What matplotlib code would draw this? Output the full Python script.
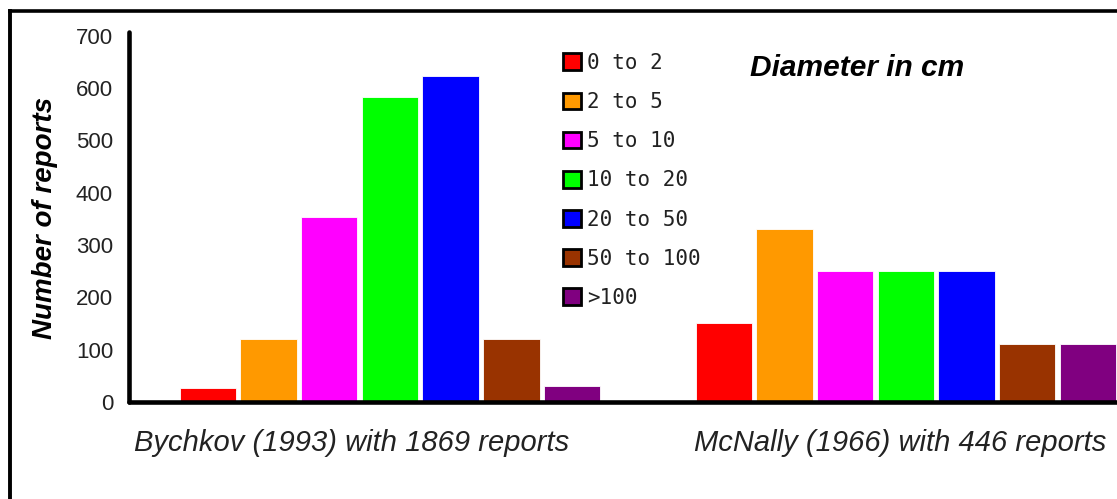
import matplotlib.pyplot as plt
from matplotlib.patches import Patch
from matplotlib.lines import Line2D
import numpy as np

# diameter classes and colours
sizes = ['0 to 2', '2 to 5', '5 to 10', '10 to 20', '20 to 50', '50 to 100', '>100']
colors = ['#ff0000', '#ff9900', '#ff00ff', '#00ff00', '#0000ff', '#993300', '#800080']

# number of reports per study
bychkov = [27, 120, 354, 583, 622, 120, 31]
mcnally = [150, 330, 250, 250, 250, 111, 111]
studies = ['Bychkov (1993) with 1869 reports', 'McNally (1966) with 446 reports']

W, H = 1117, 499
fig = plt.figure(figsize=(W / 100, H / 100), dpi=100)
ax = fig.add_axes([129 / W, 1 - 402 / H, 1 - 129 / W, (402 - 32) / H])

pos1 = np.arange(7)
pos2 = np.arange(7) + 8.5
ax.bar(pos1, bychkov, width=0.93, color=colors, edgecolor='white', linewidth=0.6, zorder=2)
ax.bar(pos2, mcnally, width=0.93, color=colors, edgecolor='white', linewidth=0.6, zorder=2)

ax.set_xlim(-1.30, 14.98)
ax.set_ylim(0, 707)
ax.set_yticks(range(0, 701, 100))
ax.tick_params(axis='y', length=0, pad=11.5, labelsize=16, labelcolor='#222222')
ax.set_xticks([2.37, 11.41])
ax.set_xticklabels(studies, fontsize=21, style='italic', color='#222222')
ax.tick_params(axis='x', length=0, pad=19.5)
for lab in ax.get_yticklabels() + ax.get_xticklabels():
    lab.set_family('Liberation Sans')

for s in ['top', 'right']:
    ax.spines[s].set_visible(False)
for s in ['left', 'bottom']:
    ax.spines[s].set_linewidth(3.3)
    ax.spines[s].set_capstyle('round')
    ax.spines[s].set_zorder(3)

fig.text(45 / W, 1 - 218 / H, 'Number of reports', rotation=90, ha='center', va='center',
         fontsize=20, weight='bold', style='italic', family='Liberation Sans')
fig.text(750 / W, 1 - 68 / H, 'Diameter in cm', ha='left', va='center',
         fontsize=21.5, weight='bold', style='italic', family='Liberation Sans')

handles = [Patch(facecolor=c, edgecolor='black', linewidth=2) for c in colors]
fig.legend(handles, sizes, loc='upper left', bbox_to_anchor=(563 / W, 1 - 53 / H),
           frameon=False, borderpad=0, borderaxespad=0, handlelength=0.85,
           handleheight=0.85, handletextpad=0.3, labelspacing=0.92,
           prop={'family': 'DejaVu Sans Mono', 'size': 15}, labelcolor='#222222')

# outer frame (top and left edges visible)
fig.add_artist(Line2D([10 / W, 1.01], [1 - 10.5 / H, 1 - 10.5 / H], color='black', lw=2.6,
                      transform=fig.transFigure))
fig.add_artist(Line2D([10 / W, 10 / W], [1 - 10.5 / H, -0.01], color='black', lw=2.8,
                      transform=fig.transFigure))

fig.savefig('out.png', dpi=100)
